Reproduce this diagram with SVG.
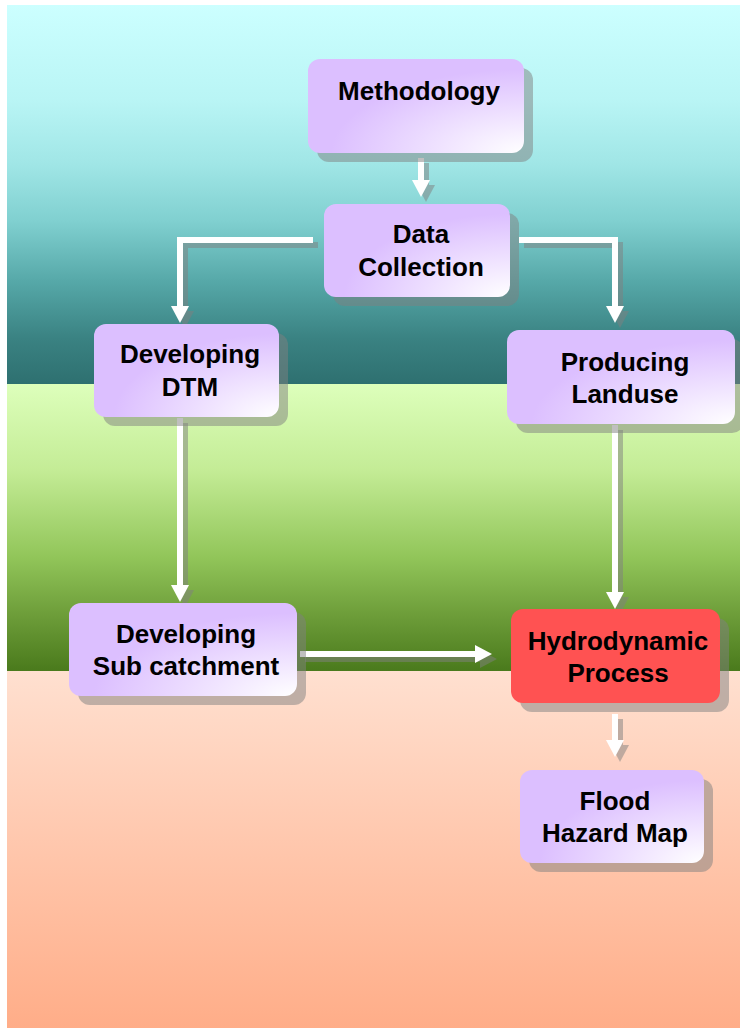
<svg xmlns="http://www.w3.org/2000/svg" width="740" height="1028" viewBox="0 0 740 1028">
<defs>
<linearGradient id="bgTop" x1="0" y1="0" x2="0" y2="1">
<stop offset="0" stop-color="#ccffff"/>
<stop offset="0.25" stop-color="#b9f5f5"/>
<stop offset="0.42" stop-color="#a0e6e6"/>
<stop offset="0.57" stop-color="#80d0d0"/>
<stop offset="0.73" stop-color="#56a8a8"/>
<stop offset="0.88" stop-color="#3a8282"/>
<stop offset="1" stop-color="#2e7070"/>
</linearGradient>
<linearGradient id="bgMid" x1="0" y1="0" x2="0" y2="1">
<stop offset="0" stop-color="#ddffbb"/>
<stop offset="0.3" stop-color="#c4ec96"/>
<stop offset="0.6" stop-color="#92c65a"/>
<stop offset="0.8" stop-color="#6e9e3a"/>
<stop offset="1" stop-color="#4a7a1c"/>
</linearGradient>
<linearGradient id="bgBot" x1="0" y1="0" x2="0" y2="1">
<stop offset="0" stop-color="#ffe0d0"/>
<stop offset="1" stop-color="#ffad88"/>
</linearGradient>
<radialGradient id="boxFill" cx="1" cy="1" r="1.05" gradientUnits="objectBoundingBox">
<stop offset="0" stop-color="#ffffff"/>
<stop offset="0.85" stop-color="#dcbfff"/>
<stop offset="1" stop-color="#dcbfff"/>
</radialGradient>
<marker id="head" viewBox="0 -9 17 18" markerWidth="17" markerHeight="18" refX="0" refY="0" orient="auto" markerUnits="userSpaceOnUse">
<path d="M0,-9 L17,0 L0,9 Z" fill="#ffffff"/>
</marker>
<marker id="headS" viewBox="0 -9 17 18" markerWidth="17" markerHeight="18" refX="0" refY="0" orient="auto" markerUnits="userSpaceOnUse">
<path d="M0,-9 L17,0 L0,9 Z" fill="#808080"/>
</marker>
</defs>
<style>
.box{fill:url(#boxFill);}
.hot{fill:#ff5252;}
.shadow{fill:#808080;opacity:0.5;}
.lbl{font-family:"Liberation Sans",Arial,sans-serif;font-weight:bold;font-size:26px;fill:#000;text-anchor:middle;}
.conn{fill:none;stroke:#ffffff;stroke-width:6;stroke-linejoin:miter;marker-end:url(#head);}
.connS{fill:none;stroke:#808080;stroke-width:6;stroke-linejoin:miter;marker-end:url(#headS);}
</style>
<g id="background">
<rect x="7" y="5" width="733" height="379" fill="url(#bgTop)"/>
<rect x="7" y="384" width="733" height="287" fill="url(#bgMid)"/>
<rect x="7" y="671" width="733" height="357" fill="url(#bgBot)"/>
</g>
<g id="connectors">
<g opacity="0.5" transform="translate(5,5)">
<path class="connS" d="M421,158 V180"/>
<path class="connS" d="M313,240 H180 V306"/>
<path class="connS" d="M519,240 H615 V306"/>
<path class="connS" d="M180,418 V585"/>
<path class="connS" d="M615,425 V592"/>
<path class="connS" d="M300,654 H475"/>
<path class="connS" d="M615,714 V740"/>
</g>
<path class="conn" d="M421,158 V180"/>
<path class="conn" d="M313,240 H180 V306"/>
<path class="conn" d="M519,240 H615 V306"/>
<path class="conn" d="M180,418 V585"/>
<path class="conn" d="M615,425 V592"/>
<path class="conn" d="M300,654 H475"/>
<path class="conn" d="M615,714 V740"/>
</g>
<g id="methodology">
<rect class="shadow" x="317" y="68" width="216" height="94" rx="12"/>
<rect class="box" x="308" y="59" width="216" height="94" rx="12"/>
<text class="lbl" x="419" y="100">Methodology</text>
</g>
<g id="data-collection">
<rect class="shadow" x="333" y="213" width="186" height="93" rx="12"/>
<rect class="box" x="324" y="204" width="186" height="93" rx="12"/>
<text class="lbl" x="421" y="243">Data</text>
<text class="lbl" x="421" y="276">Collection</text>
</g>
<g id="developing-dtm">
<rect class="shadow" x="103" y="333" width="185" height="93" rx="12"/>
<rect class="box" x="94" y="324" width="185" height="93" rx="12"/>
<text class="lbl" x="190" y="363">Developing</text>
<text class="lbl" x="190" y="396">DTM</text>
</g>
<g id="producing-landuse">
<rect class="shadow" x="516" y="339" width="228" height="94" rx="12"/>
<rect class="box" x="507" y="330" width="228" height="94" rx="12"/>
<text class="lbl" x="625" y="371">Producing</text>
<text class="lbl" x="625" y="403">Landuse</text>
</g>
<g id="developing-sub-catchment">
<rect class="shadow" x="78" y="612" width="228" height="93" rx="12"/>
<rect class="box" x="69" y="603" width="228" height="93" rx="12"/>
<text class="lbl" x="186" y="643">Developing</text>
<text class="lbl" x="186" y="675">Sub catchment</text>
</g>
<g id="hydrodynamic-process">
<rect class="shadow" x="520" y="618" width="209" height="94" rx="12"/>
<rect class="hot" x="511" y="609" width="209" height="94" rx="12"/>
<text class="lbl" x="618" y="650">Hydrodynamic</text>
<text class="lbl" x="618" y="682">Process</text>
</g>
<g id="flood-hazard-map">
<rect class="shadow" x="529" y="779" width="184" height="93" rx="12"/>
<rect class="box" x="520" y="770" width="184" height="93" rx="12"/>
<text class="lbl" x="615" y="810">Flood</text>
<text class="lbl" x="615" y="842">Hazard Map</text>
</g>
</svg>
